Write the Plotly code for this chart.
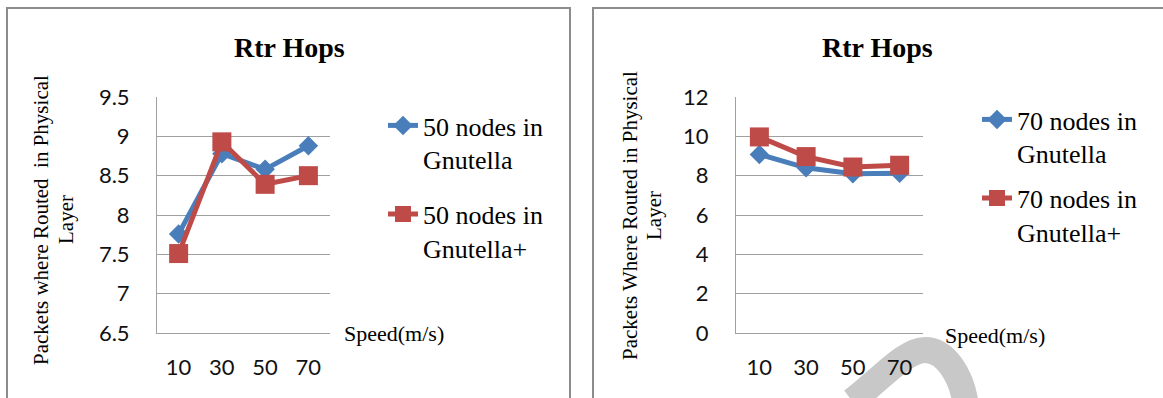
import plotly.graph_objects as go

# ---- data ----
speeds = ["10", "30", "50", "70"]

rtr_hops_50_gnutella = [7.76, 8.78, 8.58, 8.88]
rtr_hops_50_gnutella_plus = [7.51, 8.93, 8.39, 8.50]

rtr_hops_70_gnutella = [9.08, 8.40, 8.10, 8.12]
rtr_hops_70_gnutella_plus = [9.97, 8.97, 8.44, 8.53]

left_names = ["50 nodes in<br>Gnutella", "50 nodes in<br>Gnutella+"]
right_names = ["70 nodes in<br>Gnutella", "70 nodes in<br>Gnutella+"]

chart_title = "Rtr Hops"
left_ytitle = ["Packets where Routed\u00a0 in Physical", "Layer"]
right_ytitle = ["Packets Where Routed in Physical", "Layer"]
x_label = "Speed(m/s)"

# ---- page geometry ----
W, H = 1163, 398
BLUE = "#4a7ebb"
RED = "#be4b48"
GRID = "#a0a0a0"
SERIF = "Liberation Serif, Times New Roman, serif"
SANS = "Lato, Open Sans, sans-serif"


def px(x):
    return x / W


def py(y):
    return 1 - y / H


fig = go.Figure()

series = [
    (rtr_hops_50_gnutella, left_names[0], BLUE, "diamond", 15, "x", "y", "legend"),
    (rtr_hops_50_gnutella_plus, left_names[1], RED, "square", 19, "x", "y", "legend"),
    (rtr_hops_70_gnutella, right_names[0], BLUE, "diamond", 15, "x2", "y2", "legend2"),
    (rtr_hops_70_gnutella_plus, right_names[1], RED, "square", 19, "x2", "y2", "legend2"),
]
for i, (vals, name, color, symbol, size, xa, ya, lg) in enumerate(series):
    fig.add_trace(go.Scatter(
        x=speeds, y=vals, name=name, mode="lines+markers",
        line=dict(color=color, width=5),
        marker=dict(symbol=symbol, size=size, color=color),
        xaxis=xa, yaxis=ya, legend=lg, legendgroup=f"g{i}",
    ))

common_x = dict(
    type="category", categoryarray=speeds, range=[-0.5, 3.5],
    showline=True, linecolor=GRID, linewidth=1, showgrid=False,
    ticks="", tickfont=dict(family=SANS, size=22, color="#111"),
    ticklabelstandoff=15, fixedrange=True, automargin=False,
)
common_y = dict(
    showline=True, linecolor=GRID, linewidth=1, showgrid=True,
    gridcolor=GRID, gridwidth=1, zeroline=False, ticks="",
    tickfont=dict(family=SANS, size=22, color="#111"),
    ticklabelstandoff=22, fixedrange=True, automargin=False,
    domain=[py(333), py(97)],
)

legend_common = dict(
    font=dict(family=SERIF, size=26, color="#000"),
    bgcolor="rgba(0,0,0,0)", valign="top", traceorder="grouped",
    xanchor="left", yanchor="top",
)

fig.update_layout(
    width=W, height=H,
    margin=dict(l=0, r=0, t=0, b=0, autoexpand=False),
    paper_bgcolor="white", plot_bgcolor="white",
    xaxis=dict(domain=[px(157), px(330)], anchor="y", **common_x),
    yaxis=dict(anchor="x", range=[6.5, 9.5], dtick=0.5, **common_y),
    xaxis2=dict(domain=[px(736), px(923)], anchor="y2", **common_x),
    yaxis2=dict(anchor="x2", range=[0, 12], dtick=2, **common_y),
    legend=dict(x=px(383), y=py(102), tracegroupgap=18, **legend_common),
    legend2=dict(x=px(977), y=py(96), tracegroupgap=8, **legend_common),
    showlegend=True,
)

# chart frames
for x0, x1 in [(7, 570), (593, 1175)]:
    fig.add_shape(type="rect", xref="paper", yref="paper",
                  x0=px(x0), x1=px(x1), y0=py(420), y1=py(8),
                  line=dict(color="#8c8c8c", width=2), layer="below")

# faint watermark arch along the bottom edge (two smooth cubic pieces)
seg1 = [(852, 401), (880, 380), (905, 350), (925, 350)]
seg2 = [(945, 350), (962, 375), (966, 406)]
arc = "M{},{} C{},{} {},{} {},{}".format(
    *[v for x, y in seg1 for v in (px(x), py(y))])
arc += " C{},{} {},{} {},{}".format(
    *[v for x, y in seg2 for v in (px(x), py(y))])
fig.add_shape(type="path", xref="paper", yref="paper", path=arc,
              line=dict(color="#c8c8c8", width=26), layer="below")

# titles and axis captions
for cx, ylines, y1x, y2x, ycy, sx, sy in [
    (289, left_ytitle, 41, 66, 220, 342, 333),
    (877, right_ytitle, 630, 654, 216, 943, 335),
]:
    fig.add_annotation(text=f"<b>{chart_title}</b>", xref="paper", yref="paper",
                       x=px(cx), y=py(47), xanchor="center", yanchor="middle",
                       showarrow=False,
                       font=dict(family=SERIF, size=28, color="#000"))
    for lx, line in zip((y1x, y2x), ylines):
        fig.add_annotation(text=line, xref="paper", yref="paper",
                           x=px(lx), y=py(ycy), xanchor="center",
                           yanchor="middle", textangle=-90, showarrow=False,
                           font=dict(family=SERIF, size=21, color="#000"))
    fig.add_annotation(text=x_label, xref="paper", yref="paper",
                       x=px(sx), y=py(sy), xanchor="left", yanchor="middle",
                       showarrow=False,
                       font=dict(family=SERIF, size=22, color="#000"))

fig.write_html("out.html")
